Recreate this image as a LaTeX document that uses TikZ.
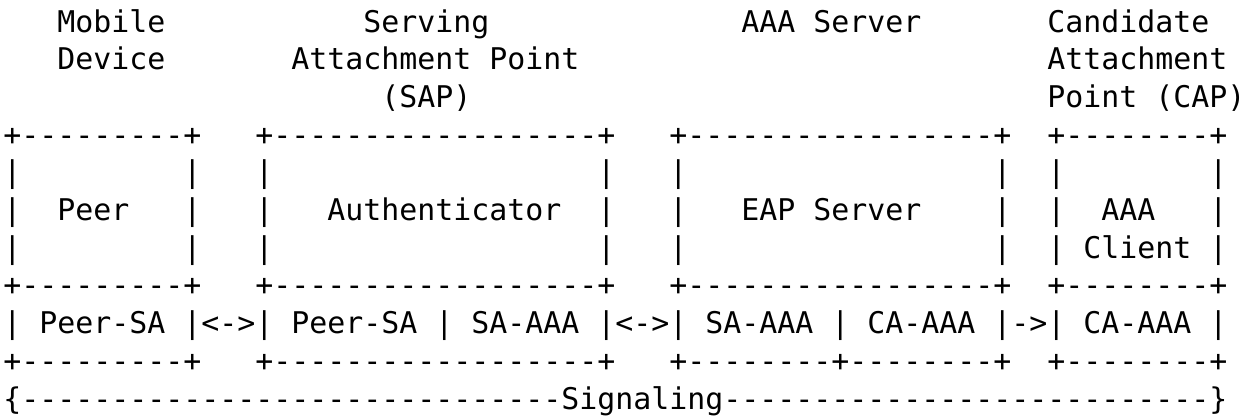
\documentclass[tikz,border=0pt]{standalone}
\usepackage{fontspec}
\setmonofont{DejaVu Sans Mono}
\usepackage{tikz}
\tikzset{ascii/.style={font=\ttfamily\fontsize{14.95pt}{18pt}\selectfont\frenchspacing, inner sep=0pt, anchor=base west}}

\begin{document}
\begin{tikzpicture}[x=9pt, y=-18.85pt]
\useasboundingbox (-0.1667,0.1512) rectangle (69.111,11.212);

% Column titles
\node[ascii] (mdA) at (3,1) {Mobile};
\node[ascii] (mdB) at (3,2) {Device};
\node[ascii] (sapA) at (20,1) {Serving};
\node[ascii] (sapB) at (16,2) {Attachment Point};
\node[ascii] (sapC) at (21,3) {(SAP)};
\node[ascii] (aaaA) at (41,1) {AAA Server};
\node[ascii] (capA) at (58,1) {Candidate};
\node[ascii] (capB) at (58,2) {Attachment};
\node[ascii] (capC) at (58,3) {Point (CAP)};

% Upper borders of the boxes
\node[ascii] (peerTop) at (0,4) {+---------+};
\node[ascii] (authTop) at (14,4) {+------------------+};
\node[ascii] (eapTop) at (37,4) {+-----------------+};
\node[ascii] (clientTop) at (58,4) {+--------+};

% Side walls
\foreach \r in {5,6,7}
  \foreach \c in {0,10,14,33,37,55,58,67}
    \node[ascii] (wall\r-\c) at (\c,\r) {|};

% Box labels
\node[ascii] (peer) at (3,6) {Peer};
\node[ascii] (auth) at (18,6) {Authenticator};
\node[ascii] (eap) at (41,6) {EAP Server};
\node[ascii] (clientA) at (61,6) {AAA};
\node[ascii] (clientB) at (60,7) {Client};

% Middle borders
\node[ascii] (peerMid) at (0,8) {+---------+};
\node[ascii] (authMid) at (14,8) {+------------------+};
\node[ascii] (eapMid) at (37,8) {+-----------------+};
\node[ascii] (clientMid) at (58,8) {+--------+};

% Security associations
\node[ascii] (peerSA) at (0,9) {| Peer-SA |};
\node[ascii] (linkA) at (11,9) {<->};
\node[ascii] (authSA) at (14,9) {| Peer-SA | SA-AAA |};
\node[ascii] (linkB) at (34,9) {<->};
\node[ascii] (eapSA) at (37,9) {| SA-AAA | CA-AAA |};
\node[ascii] (linkC) at (56,9) {->};
\node[ascii] (clientSA) at (58,9) {| CA-AAA |};

% Lower borders
\node[ascii] (peerBot) at (0,10) {+---------+};
\node[ascii] (authBot) at (14,10) {+------------------+};
\node[ascii] (eapBot) at (37,10) {+--------+--------+};
\node[ascii] (clientBot) at (58,10) {+--------+};

% Signaling
\node[ascii] (signal) at (0,11) {\{------------------------------Signaling---------------------------\}};
\end{tikzpicture}
\end{document}
